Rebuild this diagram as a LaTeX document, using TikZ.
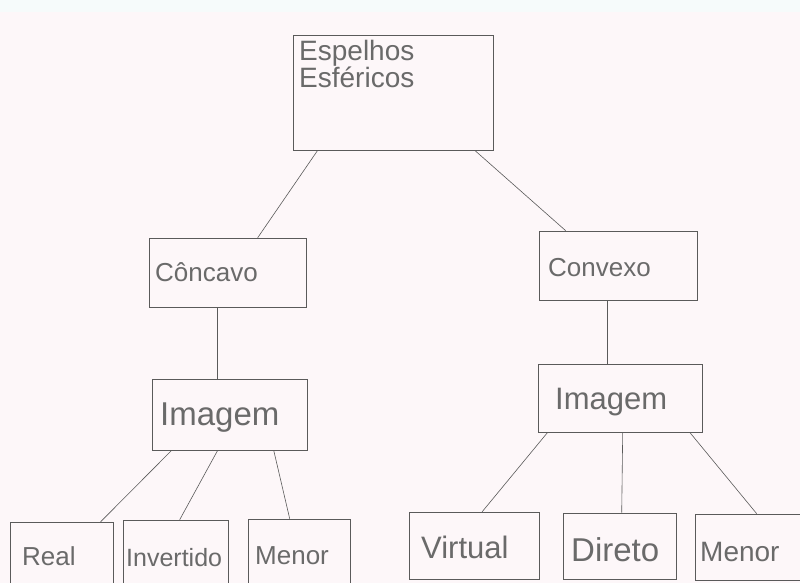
\documentclass[tikz,border=0pt]{standalone}
\usepackage{fontspec}
\setmainfont{Liberation Sans}
\begin{document}
\begin{tikzpicture}[x=1pt,y=-1pt,
  box/.style={draw=linegray,line width=0.6pt,rectangle,inner sep=0pt,
    minimum width=#1},
  lbl/.style={anchor=west,inner sep=0pt,text=textgray,font=\fontsize{26}{29}\selectfont},
  conn/.style={draw=linegray,line width=0.6pt}]
\definecolor{linegray}{HTML}{5A5A5A}
\definecolor{textgray}{HTML}{6A6A6A}
\definecolor{paper}{HTML}{FDF7F9}
\definecolor{strip}{HTML}{F6FBFB}
\useasboundingbox (0,0) rectangle (800,583);
\clip (0,0) rectangle (800,583);
\fill[paper] (0,0) rectangle (800,583);
\fill[strip] (0,0) rectangle (800,12);
% boxes
\node[box=200pt,minimum height=115pt] (top)  at (393,92.5)  {};
\node[box=157pt,minimum height=69pt]  (conc) at (227.5,272.5) {};
\node[box=158pt,minimum height=69pt]  (conv) at (618,265.5) {};
\node[box=155pt,minimum height=71pt]  (imL)  at (229.5,414.5) {};
\node[box=164pt,minimum height=68pt]  (imR)  at (620,398) {};
\node[box=103pt,minimum height=98pt]  (real) at (61.5,571) {};
\node[box=105pt,minimum height=100pt] (inv)  at (175.5,570) {};
\node[box=102pt,minimum height=101pt] (menL) at (299,569.5) {};
\node[box=130pt,minimum height=67pt]  (virt) at (474.5,545.5) {};
\node[box=113pt,minimum height=66pt]  (dir)  at (619.5,546) {};
\node[box=121pt,minimum height=66pt]  (menR) at (755.5,547) {};
% labels
\node[lbl,align=left,anchor=north west,font=\fontsize{28}{27}\selectfont] (tEsp) at (299,40) {Espelhos\\Esféricos};
\node[lbl] (tConc) at (155,272) {Côncavo};
\node[lbl] (tConv) at (548,268) {Convexo};
\node[lbl,font=\fontsize{33}{36}\selectfont] (tImL) at (160,418) {Imagem};
\node[lbl,font=\fontsize{31}{34}\selectfont] (tImR) at (555,402) {Imagem};
\node[lbl] (tReal) at (22,556) {Real};
\node[lbl,font=\fontsize{25}{28}\selectfont] (tInv) at (126,558) {Invertido};
\node[lbl] (tMenL) at (255,556) {Menor};
\node[lbl,font=\fontsize{31}{34}\selectfont] (tVirt) at (421,547) {Virtual};
\node[lbl,font=\fontsize{33}{36}\selectfont] (tDir) at (571,550) {Direto};
\node[lbl,font=\fontsize{28}{31}\selectfont] (tMenR) at (700,552) {Menor};
% connectors
\draw[conn] ([xshift=25pt]top.south west) -- ([xshift=109pt]conc.north west);
\draw[conn] ([xshift=182pt]top.south west) -- ([xshift=27pt]conv.north west);
\draw[conn] ([xshift=69pt]conc.south west) -- ([xshift=66pt]imL.north west);
\draw[conn] ([xshift=69pt]conv.south west) -- ([xshift=70pt]imR.north west);
\draw[conn] ([xshift=20pt]imL.south west) -- ([xshift=91pt]real.north west);
\draw[conn] ([xshift=66pt]imL.south west) -- ([xshift=57pt]inv.north west);
\draw[conn] ([xshift=122pt]imL.south west) -- ([xshift=42pt]menL.north west);
\draw[conn] ([xshift=10pt]imR.south west) -- ([xshift=73pt]virt.north west);
\draw[conn] ([xshift=85pt]imR.south west) -- ([xshift=59pt]dir.north west);
\draw[conn] ([xshift=152pt]imR.south west) -- ([xshift=62pt]menR.north west);
\end{tikzpicture}
\end{document}
